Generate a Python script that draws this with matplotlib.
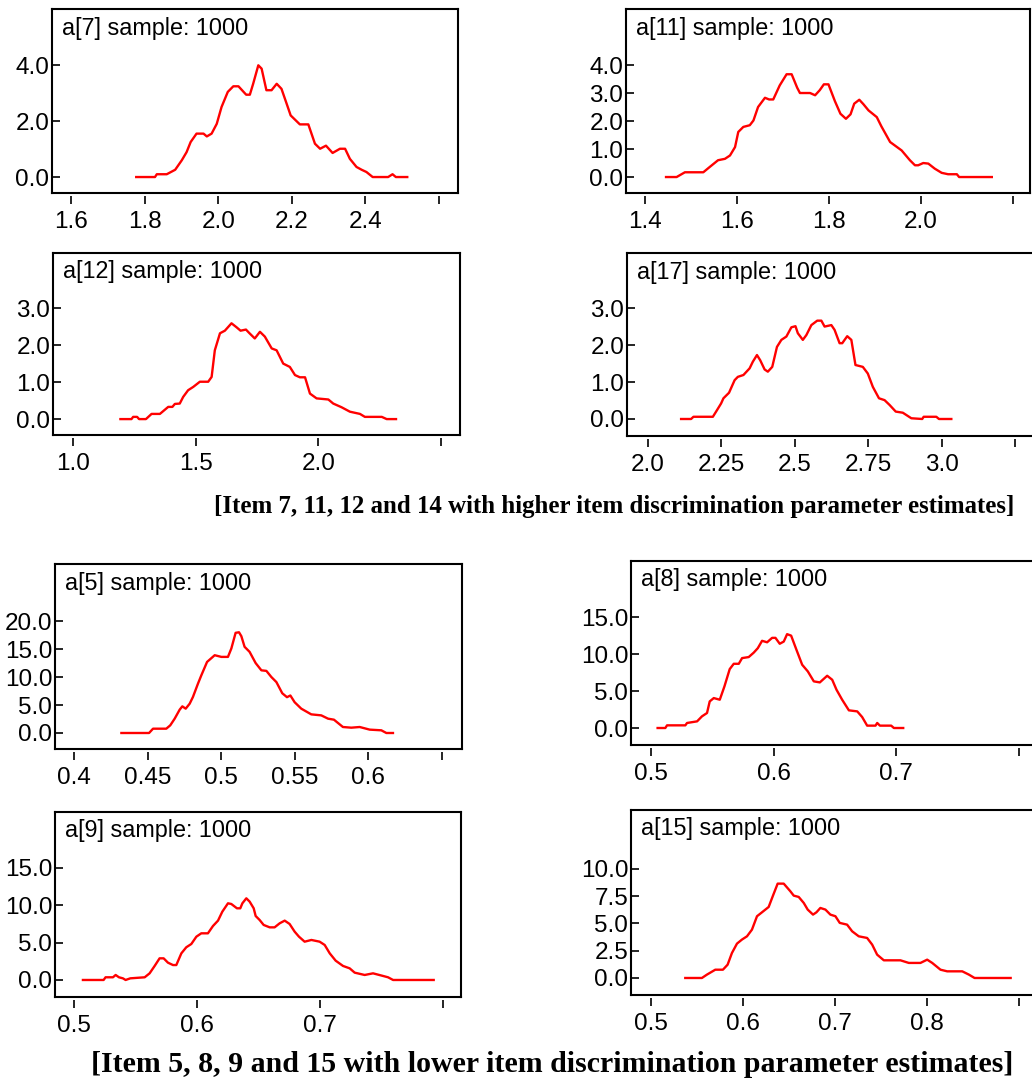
import matplotlib
matplotlib.use("Agg")
import matplotlib.pyplot as plt

# posterior density traces
a7_x = [1.777, 1.828, 1.833, 1.860, 1.883, 1.901, 1.914, 1.925, 1.941, 1.960, 1.969, 1.982,
        1.996, 2.009, 2.026, 2.041, 2.055, 2.076, 2.086, 2.095, 2.109, 2.118, 2.131, 2.145,
        2.159, 2.172, 2.186, 2.197, 2.222, 2.245, 2.263, 2.277, 2.293, 2.311, 2.331, 2.345,
        2.358, 2.376, 2.390, 2.403, 2.420, 2.462, 2.474, 2.483, 2.514]
a7_y = [0, 0, 0.1, 0.1, 0.26, 0.6, 0.89, 1.25, 1.55, 1.55, 1.45, 1.55,
        1.9, 2.5, 3.04, 3.24, 3.24, 2.94, 2.94, 3.33, 3.99, 3.87, 3.1, 3.1,
        3.33, 3.15, 2.62, 2.2, 1.88, 1.88, 1.19, 1.01, 1.12, 0.86, 1.01, 1.01,
        0.65, 0.36, 0.26, 0.18, 0, 0, 0.1, 0, 0]

a11_x = [1.446, 1.469, 1.487, 1.527, 1.541, 1.559, 1.574, 1.585, 1.596, 1.603, 1.614, 1.628,
         1.636, 1.646, 1.661, 1.670, 1.679, 1.693, 1.708, 1.719, 1.731, 1.737, 1.759, 1.770,
         1.780, 1.789, 1.799, 1.813, 1.825, 1.837, 1.847, 1.855, 1.866, 1.875, 1.886, 1.904,
         1.914, 1.933, 1.958, 1.976, 1.987, 1.994, 2.005, 2.016, 2.030, 2.045, 2.059, 2.078,
         2.083, 2.154]
a11_y = [0, 0, 0.17, 0.17, 0.36, 0.6, 0.65, 0.77, 1.07, 1.61, 1.79, 1.85,
         2.02, 2.5, 2.83, 2.77, 2.77, 3.27, 3.67, 3.67, 3.19, 3.0, 3.0, 2.92,
         3.1, 3.31, 3.31, 2.71, 2.26, 2.08, 2.24, 2.62, 2.76, 2.6, 2.38, 2.14,
         1.81, 1.25, 0.95, 0.6, 0.42, 0.42, 0.5, 0.48, 0.3, 0.15, 0.1, 0.1,
         0, 0]

a12_x = [1.193, 1.238, 1.245, 1.261, 1.269, 1.297, 1.320, 1.354, 1.388, 1.405, 1.415, 1.435,
         1.449, 1.469, 1.490, 1.517, 1.551, 1.565, 1.578, 1.599, 1.619, 1.646, 1.667, 1.683,
         1.705, 1.718, 1.741, 1.762, 1.782, 1.810, 1.830, 1.857, 1.884, 1.905, 1.925, 1.946,
         1.966, 1.993, 2.041, 2.061, 2.095, 2.129, 2.170, 2.190, 2.259, 2.279, 2.317]
a12_y = [0, 0, 0.06, 0.06, 0, 0, 0.14, 0.14, 0.33, 0.33, 0.41, 0.42,
         0.6, 0.78, 0.87, 1.01, 1.01, 1.14, 1.86, 2.32, 2.39, 2.59, 2.48, 2.39,
         2.42, 2.33, 2.18, 2.36, 2.23, 1.91, 1.86, 1.5, 1.41, 1.19, 1.13, 1.13,
         0.69, 0.56, 0.53, 0.42, 0.32, 0.2, 0.14, 0.06, 0.06, 0, 0]

a17_x = [2.113, 2.147, 2.155, 2.221, 2.232, 2.249, 2.257, 2.276, 2.295, 2.306, 2.325, 2.346,
         2.357, 2.371, 2.382, 2.397, 2.408, 2.423, 2.439, 2.454, 2.471, 2.488, 2.502, 2.510,
         2.527, 2.539, 2.556, 2.576, 2.590, 2.601, 2.624, 2.635, 2.652, 2.661, 2.678, 2.692,
         2.706, 2.731, 2.748, 2.765, 2.786, 2.805, 2.822, 2.843, 2.867, 2.896, 2.933, 2.938,
         2.981, 2.990, 3.032]
a17_y = [0, 0, 0.06, 0.06, 0.2, 0.42, 0.56, 0.71, 1.05, 1.14, 1.19, 1.37,
         1.55, 1.73, 1.59, 1.34, 1.28, 1.41, 1.95, 2.14, 2.23, 2.48, 2.51, 2.32,
         2.14, 2.27, 2.54, 2.66, 2.66, 2.5, 2.54, 2.41, 2.05, 2.05, 2.24, 2.14,
         1.46, 1.41, 1.23, 0.87, 0.56, 0.51, 0.38, 0.2, 0.17, 0.02, 0, 0.06,
         0.06, 0, 0]

a5_x = [0.4322, 0.4510, 0.4537, 0.4627, 0.4654, 0.4684, 0.4718, 0.4736, 0.4759, 0.4786, 0.4808,
        0.4842, 0.4865, 0.4904, 0.4956, 0.5001, 0.5046, 0.5069, 0.5098, 0.5121, 0.5137, 0.5159,
        0.5193, 0.5234, 0.5273, 0.5307, 0.5341, 0.5375, 0.5415, 0.5447, 0.5470, 0.5499, 0.5544,
        0.5612, 0.5680, 0.5726, 0.5766, 0.5827, 0.5884, 0.5941, 0.6009, 0.6088, 0.6122, 0.6167]
a5_y = [0, 0, 0.77, 0.77, 1.37, 2.56, 4.17, 4.76, 4.35, 5.24, 6.43,
        8.8, 10.3, 12.7, 13.9, 13.6, 13.6, 15.1, 17.9, 18.0, 17.3, 15.4,
        14.5, 12.5, 11.2, 11.1, 10.0, 9.1, 7.1, 6.4, 6.7, 5.5, 4.35,
        3.33, 3.15, 2.56, 2.38, 1.07, 0.95, 1.07, 0.6, 0.48, 0, 0]

a8_x = [0.5054, 0.5117, 0.5131, 0.5280, 0.5294, 0.5376, 0.5416, 0.5457, 0.5479, 0.5512, 0.5561,
        0.5599, 0.5642, 0.5675, 0.5716, 0.5743, 0.5797, 0.5838, 0.5871, 0.5906, 0.5947, 0.5988,
        0.6015, 0.6050, 0.6083, 0.6110, 0.6143, 0.6186, 0.6233, 0.6279, 0.6328, 0.6377, 0.6437,
        0.6478, 0.6513, 0.6559, 0.6614, 0.6682, 0.6722, 0.6763, 0.6831, 0.6845, 0.6867, 0.6959,
        0.6981, 0.7057]
a8_y = [0, 0, 0.36, 0.36, 0.68, 0.9, 1.58, 2.03, 3.6, 4.05, 3.83,
        5.63, 7.97, 8.69, 8.69, 9.46, 9.6, 10.2, 10.8, 11.8, 11.6, 12.2,
        12.2, 11.4, 11.7, 12.7, 12.5, 10.6, 8.56, 7.66, 6.31, 6.17, 7.07,
        6.53, 5.18, 3.83, 2.39, 2.25, 1.49, 0.32, 0.32, 0.68, 0.32, 0.32,
        0, 0]

a9_x = [0.5073, 0.5241, 0.5257, 0.5317, 0.5339, 0.5366, 0.5398, 0.5420, 0.5458, 0.5575, 0.5615,
        0.5656, 0.5696, 0.5729, 0.5764, 0.5805, 0.5832, 0.5873, 0.5913, 0.5954, 0.5995, 0.6035,
        0.6089, 0.6130, 0.6171, 0.6206, 0.6252, 0.6279, 0.6325, 0.6352, 0.6369, 0.6401, 0.6428,
        0.6461, 0.6477, 0.6509, 0.6542, 0.6591, 0.6631, 0.6672, 0.6713, 0.6753, 0.6794, 0.6829,
        0.6875, 0.6930, 0.6997, 0.7038, 0.7079, 0.7127, 0.7187, 0.7241, 0.7282, 0.7363, 0.7431,
        0.7512, 0.7553, 0.7594, 0.7924]
a9_y = [0, 0, 0.36, 0.36, 0.67, 0.36, 0.22, 0, 0.22, 0.36, 0.89,
        1.88, 2.9, 2.9, 2.32, 2.0, 2.0, 3.57, 4.38, 4.82, 5.8, 6.25,
        6.25, 7.23, 7.95, 9.15, 10.27, 10.18, 9.6, 9.6, 10.27, 10.94, 10.5,
        9.6, 8.57, 8.04, 7.37, 7.05, 7.05, 7.59, 7.95, 7.5, 6.47, 5.8,
        5.13, 5.36, 5.13, 4.69, 3.57, 2.59, 1.88, 1.56, 0.98, 0.67, 0.89,
        0.54, 0.36, 0, 0]

a15_x = [0.5371, 0.5552, 0.5607, 0.5698, 0.5781, 0.5832, 0.5879, 0.5934, 0.5988, 0.6043, 0.6097,
         0.6152, 0.6206, 0.6279, 0.6326, 0.6377, 0.6443, 0.6515, 0.6552, 0.6606, 0.6661, 0.6704,
         0.6762, 0.6799, 0.6842, 0.6897, 0.6951, 0.7006, 0.7053, 0.7133, 0.7188, 0.7260, 0.7351,
         0.7406, 0.7460, 0.7533, 0.7714, 0.7805, 0.7932, 0.8005, 0.8060, 0.8150, 0.8223, 0.8387,
         0.8459, 0.8521, 0.8914]
a15_y = [0, 0, 0.31, 0.76, 0.76, 1.22, 2.29, 3.15, 3.52, 3.82, 4.43,
         5.66, 6.02, 6.51, 7.55, 8.65, 8.65, 7.95, 7.55, 7.43, 6.88, 6.27,
         5.81, 6.02, 6.42, 6.27, 5.81, 5.66, 5.05, 4.89, 4.28, 3.82, 3.67,
         3.06, 2.14, 1.62, 1.62, 1.38, 1.38, 1.68, 1.38, 0.76, 0.61, 0.61,
         0.31, 0, 0]

# tick values / labels for each panel (last tick carries no label, as in WinBUGS)
a7_xticks = [1.6, 1.8, 2.0, 2.2, 2.4, 2.6]
a7_xlabels = ["1.6", "1.8", "2.0", "2.2", "2.4", ""]
a7_yticks = [0.0, 2.0, 4.0]
a11_xticks = [1.4, 1.6, 1.8, 2.0, 2.2]
a11_xlabels = ["1.4", "1.6", "1.8", "2.0", ""]
a11_yticks = [0.0, 1.0, 2.0, 3.0, 4.0]
a12_xticks = [1.0, 1.5, 2.0, 2.5]
a12_xlabels = ["1.0", "1.5", "2.0", ""]
a12_yticks = [0.0, 1.0, 2.0, 3.0]
a17_xticks = [2.0, 2.25, 2.5, 2.75, 3.0, 3.25]
a17_xlabels = ["2.0", "2.25", "2.5", "2.75", "3.0", ""]
a17_yticks = [0.0, 1.0, 2.0, 3.0]
a5_xticks = [0.4, 0.45, 0.5, 0.55, 0.6, 0.65]
a5_xlabels = ["0.4", "0.45", "0.5", "0.55", "0.6", ""]
a5_yticks = [0.0, 5.0, 10.0, 15.0, 20.0]
a8_xticks = [0.5, 0.6, 0.7, 0.8]
a8_xlabels = ["0.5", "0.6", "0.7", ""]
a8_yticks = [0.0, 5.0, 10.0, 15.0]
a9_xticks = [0.5, 0.6, 0.7, 0.8]
a9_xlabels = ["0.5", "0.6", "0.7", ""]
a9_yticks = [0.0, 5.0, 10.0, 15.0]
a15_xticks = [0.5, 0.6, 0.7, 0.8, 0.9]
a15_xlabels = ["0.5", "0.6", "0.7", "0.8", ""]
a15_yticks = [0.0, 2.5, 5.0, 7.5, 10.0]

title_high = "[Item 7, 11, 12 and 14 with higher item discrimination parameter estimates]"
title_low = "[Item 5, 8, 9 and 15 with lower item discrimination parameter estimates]"

W, H = 1032, 1084
fig = plt.figure(figsize=(W / 100, H / 100), dpi=100)
plt.rcParams['font.family'] = ['Liberation Sans', 'DejaVu Sans']


def panel(box, xlim, ylim, x, y, name, xticks, xlabels, yticks):
    # box = (left, top, right, bottom) in pixels of the figure
    l, t, r, b = box
    ax = fig.add_axes([l / W, 1 - b / H, (r - l) / W, (b - t) / H])
    ax.plot(x, y, color="#ff0000", lw=1.7)
    ax.set_xlim(*xlim)
    ax.set_ylim(*ylim)
    ax.set_xticks(xticks, xlabels)
    ax.set_yticks(yticks, ["%.1f" % v for v in yticks])
    for s in ax.spines.values():
        s.set_linewidth(1.5)
    # x axis sits a little below the frame
    ax.spines["bottom"].set_position(("outward", 2.5))
    ax.spines["bottom"].set_visible(False)
    ax.plot([0, 1], [0, 0], transform=ax.transAxes, color="black", lw=1.5, clip_on=False)
    ax.tick_params(axis="x", direction="out", length=5.5, width=1.2, pad=5, labelsize=17.5)
    ax.tick_params(axis="y", direction="in", length=6, width=1.2, pad=2, labelsize=17.5)
    ax.annotate(name + " sample: 1000", xy=(0, 1), xycoords="axes fraction",
                xytext=(10, -19), textcoords="offset pixels", va="center", ha="left",
                fontsize=16.8)
    return ax


panel((52, 9, 458, 193), (1.548, 2.652), (-0.57, 6.0), a7_x, a7_y, "a[7]",
      a7_xticks, a7_xlabels, a7_yticks)
panel((626, 9, 1030, 193), (1.359, 2.237), (-0.57, 6.0), a11_x, a11_y, "a[11]",
      a11_xticks, a11_xlabels, a11_yticks)
panel((53, 253, 460, 435), (0.918, 2.578), (-0.43, 4.49), a12_x, a12_y, "a[12]",
      a12_xticks, a12_xlabels, a12_yticks)
panel((627, 253, 1036, 436), (1.929, 3.32), (-0.46, 4.49), a17_x, a17_y, "a[17]",
      a17_xticks, a17_xlabels, a17_yticks)
panel((55, 564, 462, 749), (0.3871, 0.6636), (-2.86, 30.2), a5_x, a5_y, "a[5]",
      a5_xticks, a5_xlabels, a5_yticks)
panel((631, 561, 1036, 745), (0.4837, 0.814), (-2.3, 22.6), a8_x, a8_y, "a[8]",
      a8_xticks, a8_xlabels, a8_yticks)
panel((55, 812, 461, 997), (0.4846, 0.8146), (-2.28, 22.5), a9_x, a9_y, "a[9]",
      a9_xticks, a9_xlabels, a9_yticks)
panel((631, 810, 1036, 995), (0.478, 0.919), (-1.56, 15.4), a15_x, a15_y, "a[15]",
      a15_xticks, a15_xlabels, a15_yticks)

fig.text(614 / W, 1 - 507 / H, title_high, ha="center", va="center",
         fontsize=17.9, fontweight="bold", family=["Liberation Serif", "DejaVu Serif"])
fig.text(552 / W, 1 - 1064 / H, title_low, ha="center", va="center",
         fontsize=21.5, fontweight="bold", family=["Liberation Serif", "DejaVu Serif"])

fig.savefig("out.png", dpi=100)
